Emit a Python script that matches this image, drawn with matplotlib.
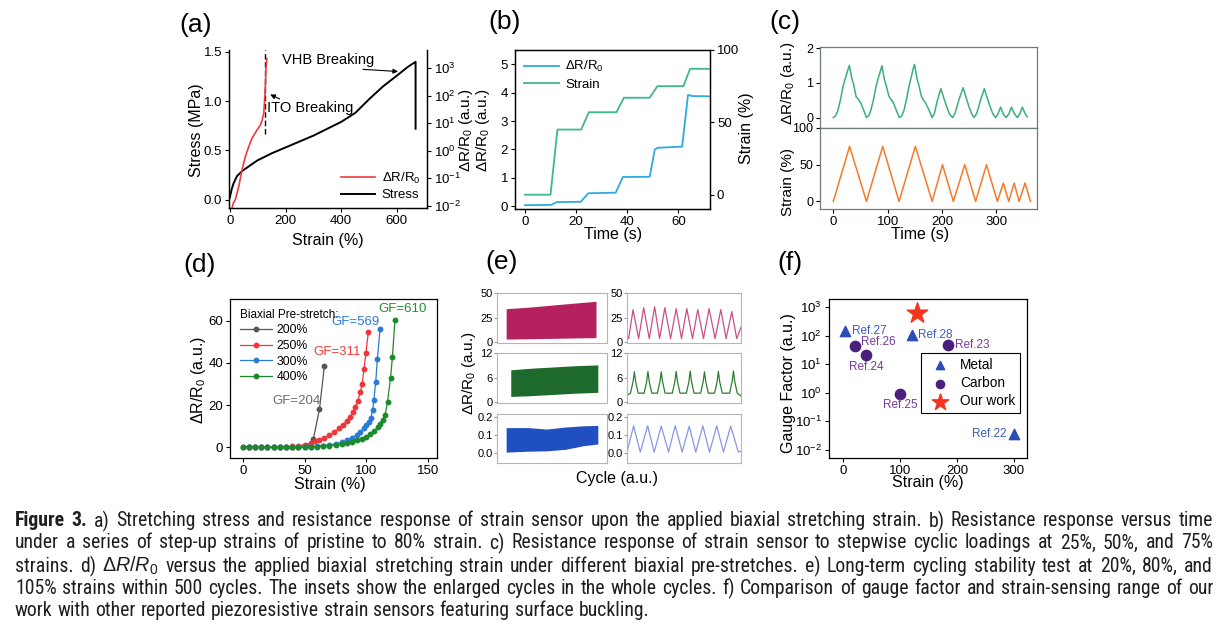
import matplotlib
matplotlib.use("Agg")
import matplotlib.pyplot as plt
import numpy as np
from matplotlib import font_manager

plt.rcParams["font.family"] = ["Liberation Sans", "DejaVu Sans"]
plt.rcParams["mathtext.fontset"] = "custom"
plt.rcParams["mathtext.rm"] = "Liberation Sans"
plt.rcParams["mathtext.it"] = "Liberation Sans:italic"
plt.rcParams["mathtext.bf"] = "Liberation Sans:bold"
plt.rcParams["axes.linewidth"] = 0.9
plt.rcParams["xtick.labelsize"] = 9.5
plt.rcParams["ytick.labelsize"] = 9.5
plt.rcParams["xtick.major.size"] = 3
plt.rcParams["ytick.major.size"] = 3
plt.rcParams["xtick.major.pad"] = 2
plt.rcParams["ytick.major.pad"] = 2

W, H = 1230, 628
DR = r"ΔR/R$_0$"

# ---------------- data ----------------
# (a) stress-strain and resistance up to breaking
a_strain = [0, 6, 14, 26, 44, 74, 100, 150, 200, 250, 300, 350, 400, 450, 500, 550, 600, 640, 667, 667]
a_stress = [0.02, 0.10, 0.17, 0.24, 0.29, 0.35, 0.40, 0.47, 0.53, 0.59, 0.65, 0.72, 0.79, 0.88, 1.02, 1.15, 1.26, 1.35, 1.40, 0.72]
a_strain_r = [8, 13, 20, 32, 44, 56, 68, 80, 98, 110, 116, 122, 125, 128, 130, 133]
a_dr = [0.0083, 0.0126, 0.0166, 0.05, 0.2, 0.62, 1.41, 2.9, 5.75, 8.7, 13.2, 23.4, 71, 288, 1150, 2290]
a_ito_strain = 128
a_ito_span = [0.67, 1.52]

# (b) step-up strains
b_time_dr = [0, 10.2, 12.5, 21.8, 24.8, 35.5, 38.3, 48.8, 50.8, 52, 61.5, 63.8, 65.5, 72.5]
b_dr = [0.04, 0.05, 0.15, 0.16, 0.46, 0.48, 1.03, 1.04, 2.0, 2.06, 2.1, 3.92, 3.88, 3.87]
b_time_strain = [0, 10, 12.7, 22, 25, 35.8, 38.7, 48.8, 51.8, 62, 64.6, 72.5]
b_strain = [0, 0, 45, 45, 57, 57, 67, 67, 75, 75, 87, 87]

# (c) stepwise cyclic loading
c_time_strain = [0, 30, 61, 91, 121, 151, 182, 201, 221, 242, 262, 282, 302, 313, 323, 333, 342, 353, 363]
c_strain = [0, 75, 0, 75, 0, 75, 0, 50, 0, 50, 0, 50, 0, 25, 0, 25, 0, 25, 0]
c_time_dr = [0, 4, 8, 13, 18, 22, 26, 29.5, 31, 34, 37, 42, 46, 50, 55, 61,
             65, 69, 74, 79, 83, 87, 89.5, 91, 94, 97, 102, 106, 110, 115, 121.5,
             126, 130, 135, 140, 144, 147, 149.5, 151, 154, 157, 162, 166, 170, 176, 182,
             186, 192, 198, 203, 209, 214, 219.6,
             224, 231, 239, 244, 250, 255, 259,
             264, 271, 278, 283, 289, 294, 299,
             303, 308, 313, 318, 323, 328, 333, 338.6, 343, 348, 353, 357]
c_dr = [0, 0.05, 0.18, 0.5, 0.9, 1.12, 1.33, 1.5, 1.38, 1.12, 0.98, 0.6, 0.53, 0.44, 0.25, 0,
        0.05, 0.2, 0.52, 0.92, 1.15, 1.35, 1.49, 1.36, 1.1, 0.95, 0.63, 0.52, 0.45, 0.25, 0,
        0.05, 0.2, 0.55, 0.95, 1.2, 1.4, 1.53, 1.4, 1.12, 0.96, 0.62, 0.5, 0.42, 0.22, 0,
        0.12, 0.52, 0.83, 0.58, 0.3, 0.1, 0,
        0.12, 0.5, 0.86, 0.6, 0.3, 0.1, 0,
        0.12, 0.5, 0.83, 0.58, 0.3, 0.1, 0,
        0.1, 0.3, 0.1, 0, 0.1, 0.3, 0.12, 0, 0.1, 0.3, 0.12, 0.02]

# (d) different biaxial pre-stretches
d_x_200 = [0, 5, 10, 15, 20, 25, 30, 35, 40, 45, 50, 54, 57, 62, 66]
d_y_200 = [0, 0, 0, 0, 0, 0, 0.1, 0.1, 0.2, 0.3, 0.6, 1.2, 3.8, 18, 38.5]
d_x_250 = [5, 10, 15, 20, 25, 30, 35, 40, 45, 50, 55, 58, 62, 66, 70, 74, 78, 81, 84, 87, 89, 91, 93, 95, 96.5, 98, 99.5, 101.5]
d_y_250 = [0, 0, 0, 0, 0, 0.1, 0.2, 0.4, 0.7, 1.2, 2.0, 3.0, 3.5, 4.3, 5.6, 7.2, 9.0, 10.5, 12.5, 14.5, 16.5, 19, 22, 26, 30, 37, 44.5, 54.5]
d_x_300 = [5, 10, 15, 20, 25, 30, 35, 40, 45, 50, 55, 60, 65, 70, 75, 80,
           84, 88, 92, 95, 98, 100, 102, 103.5, 105, 106, 107.5, 108.8, 111]
d_y_300 = [0, 0, 0, 0, 0, 0, 0, 0.1, 0.1, 0.2, 0.3, 0.5, 0.8, 1.1, 1.6, 2.3,
           3.2, 4.3, 5.8, 7.3, 9.0, 10.5, 12.0, 14.0, 17.5, 22.5, 31, 42, 56]
d_x_400 = [0, 5, 10, 15, 20, 25, 30, 35, 40, 45, 50, 55, 60, 65, 70, 75, 80,
           84, 88, 92, 96, 100, 103, 106, 109, 111, 113, 115, 117, 119.5, 121, 123]
d_y_400 = [0, 0, 0, 0, 0, 0, 0, 0, 0, 0.1, 0.1, 0.2, 0.3, 0.5, 0.7, 1.0, 1.4,
           1.9, 2.5, 3.2, 4.0, 5.0, 6.2, 7.6, 9.4, 11.0, 13.0, 15.2, 21.5, 33, 43, 60.5]
d_labels = ["200%", "250%", "300%", "400%"]
d_gf = ["GF=204", "GF=311", "GF=569", "GF=610"]

# (e) long-term cycling: envelopes of whole test (left) and zoomed cycles (right)
e_band_x = [[0, 120, 240, 360, 490], [25, 140, 260, 380, 500], [0, 120, 220, 320, 420, 500]]
e_band_hi = [[34, 35.5, 37.5, 39.5, 41.5], [7.9, 8.3, 8.6, 8.9, 9.1], [0.14, 0.14, 0.132, 0.143, 0.15, 0.152]]
e_band_lo = [[3, 3.3, 3.7, 4.1, 4.5], [1.4, 1.6, 1.9, 2.2, 2.4], [0.005, 0.01, 0.012, 0.02, 0.04, 0.05]]
e_r1_x = [0, 0.15, 0.55, 1.06, 1.52, 2.03, 2.52, 2.97, 3.45, 3.97, 4.48, 4.97, 5.45, 5.97, 6.45, 6.97, 7.48, 8.03, 8.55, 9.03, 9.55, 10.0, 10.39]
e_r1_y = [6, 3.5, 33, 3.5, 35, 3.5, 36, 3.5, 35, 3.5, 34, 3.5, 34, 3.5, 33, 3.5, 34, 3.5, 33, 3.5, 31, 3.5, 15]
e_r2_x = [0, 0.32, 0.55, 0.67, 0.79, 1.02, 1.56, 1.79, 1.91, 2.03, 2.26, 2.77, 3.0, 3.12, 3.24, 3.47,
          4.13, 4.36, 4.48, 4.6, 4.83, 5.41, 5.64, 5.76, 5.88, 6.11, 6.71, 6.94, 7.06, 7.18, 7.41,
          7.98, 8.21, 8.33, 8.45, 8.68, 9.35, 9.58, 9.7, 9.82, 10.05, 10.39]
e_r2_y = [1.7, 2.2, 5, 7.4, 5, 2.2, 2.2, 5, 7.5, 5, 2.2, 2.2, 5, 7.4, 5, 2.2,
          2.2, 5, 7.5, 5, 2.2, 2.2, 5, 7.6, 5, 2.2, 2.2, 5, 7.4, 5, 2.2,
          2.2, 5, 7.5, 5, 2.2, 2.2, 5, 7.6, 5, 2.2, 1.5]
e_r3_x = [0, 0.6, 1.21, 1.88, 2.48, 3.12, 3.79, 4.39, 5.03, 5.67, 6.27, 6.91, 7.52, 8.18, 8.79, 9.45, 10.15, 10.39]
e_r3_y = [0.005, 0.15, 0.005, 0.15, 0.005, 0.148, 0.005, 0.15, 0.005, 0.148, 0.005, 0.15, 0.005, 0.15, 0.005, 0.148, 0.005, 0.01]

# (f) comparison with literature
f_metal_x = [3, 120, 300]
f_metal_y = [150, 108, 0.035]
f_metal_ref = ["Ref.27", "Ref.28", "Ref.22"]
f_carbon_x = [20, 40, 100, 185]
f_carbon_y = [45, 21.5, 0.9, 48]
f_carbon_ref = ["Ref.26", "Ref.24", "Ref.25", "Ref.23"]
f_our_x = [130]
f_our_y = [650]

caption = [
    "Figure 3.  a) Stretching stress and resistance response of strain sensor upon the applied biaxial stretching strain. b) Resistance response versus time",
    "under a series of step-up strains of pristine to 80% strain. c) Resistance response of strain sensor to stepwise cyclic loadings at 25%, 50%, and 75%",
    r"strains. d) $\Delta{}R/R_0$ versus the applied biaxial stretching strain under different biaxial pre-stretches. e) Long-term cycling stability test at 20%, 80%, and",
    "105% strains within 500 cycles. The insets show the enlarged cycles in the whole cycles. f) Comparison of gauge factor and strain-sensing range of our",
    "work with other reported piezoresistive strain sensors featuring surface buckling.",
]


def rect(l, t, r, b):
    return [l / W, 1 - b / H, (r - l) / W, (b - t) / H]


def ftext(px, py, s, **kw):
    return fig.text(px / W, 1 - py / H, s, ha=kw.pop("ha", "center"), va=kw.pop("va", "center"), **kw)


fig = plt.figure(figsize=(W / 100, H / 100), dpi=100)

# ---------------- (a) ----------------
ax = fig.add_axes(rect(229, 50, 427, 208))
ax.plot(a_strain, a_stress, color="black", lw=1.4)
ax.vlines(a_ito_strain, *a_ito_span, colors="black", linestyles=(0, (4, 2)), lw=1.0)
ax.set_xlim(-3, 708)
ax.set_ylim(-0.085, 1.52)
ax.set_xticks([0, 200, 400, 600])
ax.set_yticks([0, 0.5, 1.0, 1.5])
ax.spines["top"].set_visible(False)
ax.text(188, 1.415, "VHB Breaking", fontsize=10.5, va="center")
ax.annotate("", xy=(614, 1.30), xytext=(468, 1.325),
            arrowprops=dict(arrowstyle="-|>", color="black", lw=0.8, mutation_scale=7))
ax.text(134, 0.93, "ITO Breaking", fontsize=10.5, va="center")
ax.annotate("", xy=(136, 1.08), xytext=(188, 1.01),
            arrowprops=dict(arrowstyle="-|>", color="black", lw=0.8, mutation_scale=7))
ax2 = ax.twinx()
ax2.semilogy(a_strain_r, a_dr, color="#EE3B3B", lw=1.2)
ax2.set_ylim(10 ** -2.09, 10 ** 3.67)
ax2.set_yticks([1e-2, 1e-1, 1, 10, 100, 1000])
ax2.spines["top"].set_visible(False)
ax2.legend(handles=[plt.Line2D([], [], color="#EE3B3B", lw=1.2, label=DR),
                    plt.Line2D([], [], color="black", lw=1.4, label="Stress")],
           loc="lower right", frameon=False, fontsize=9.5, handlelength=2.6,
           borderaxespad=0.1, labelspacing=0.25, handletextpad=0.5)
ftext(196, 25, "(a)", fontsize=19)
ftext(197, 130, "Stress (MPa)", fontsize=11.5, rotation=90)
ftext(466, 130, DR + " (a.u.)", fontsize=11, rotation=90)
ftext(328, 241, "Strain (%)", fontsize=11.5)

# ---------------- (b) ----------------
ax = fig.add_axes(rect(515, 50, 710, 209))
l1, = ax.plot(b_time_dr, b_dr, color="#2EAADF", lw=1.3, label=DR)
ax.set_xlim(-3.9, 72.4)
ax.set_ylim(-0.094, 5.5)
ax.set_xticks([0, 20, 40, 60])
ax.set_yticks([0, 1, 2, 3, 4, 5])
ax2 = ax.twinx()
l2, = ax2.plot(b_time_strain, b_strain, color="#3DB98A", lw=1.3, label="Strain")
ax2.set_ylim(-9.9, 100)
ax2.set_yticks([0, 50, 100])
ax2.legend(handles=[l1, l2], loc="upper left", frameon=False, fontsize=9.5,
           handlelength=2.6, borderaxespad=0.3, labelspacing=0.3, handletextpad=0.5)
ftext(505, 22, "(b)", fontsize=19)
ftext(483, 130, DR + " (a.u.)", fontsize=11, rotation=90)
ftext(747, 128, "Strain (%)", fontsize=11.5, rotation=90)
ftext(613, 235, "Time (s)", fontsize=11.5)

# ---------------- (c) ----------------
grey = "#6d7b7b"
axt = fig.add_axes(rect(820, 47, 1037, 128))
axb = fig.add_axes(rect(820, 128, 1037, 209))
axt.plot(c_time_dr, c_dr, color="#3BB077", lw=1.1)
axb.plot(c_time_strain, c_strain, color="#F57A2A", lw=1.1)
for a in (axt, axb):
    a.set_xlim(-24.5, 375)
    a.tick_params(axis="y", labelsize=9)
    for s in a.spines.values():
        s.set_color(grey)
axt.set_ylim(-0.3, 2.03)
axt.set_yticks([0, 1, 2])
axt.tick_params(bottom=False, labelbottom=False)
axb.set_ylim(-10.3, 100)
axb.set_yticks([0, 50, 100])
axb.set_xticks([0, 100, 200, 300])
ftext(785, 22, "(c)", fontsize=19)
ftext(788, 83, DR + " (a.u.)", fontsize=11, rotation=90)
ftext(788, 182, "Strain (%)", fontsize=11, rotation=90)
ftext(920, 235, "Time (s)", fontsize=11.5)

# ---------------- (d) ----------------
ax = fig.add_axes(rect(230, 299, 437, 458))
d_colors = ["#555555", "#F0343C", "#2A7BD6", "#1B8A2B"]
d_x = [d_x_200, d_x_250, d_x_300, d_x_400]
d_y = [d_y_200, d_y_250, d_y_300, d_y_400]
for xs, ys, c, lab in zip(d_x, d_y, d_colors, d_labels):
    ax.plot(xs, ys, color=c, lw=0.9, marker="o", ms=3.2, label=lab)
ax.text(43.7, 22, d_gf[0], color="#6b6b6b", fontsize=9.5, ha="center", va="center")
ax.text(76, 45, d_gf[1], color="#EE3B3B", fontsize=9.5, ha="center", va="center")
ax.text(91, 59.5, d_gf[2], color="#2A7BD6", fontsize=9.5, ha="center", va="center")
ax.text(129, 65.5, d_gf[3], color="#1F8F2F", fontsize=9.5, ha="center", va="center")
ax.set_xlim(-10.3, 157)
ax.set_ylim(-5.1, 70.3)
ax.set_xticks([0, 50, 100, 150])
ax.set_yticks([0, 20, 40, 60])
leg = ax.legend(loc="upper left", frameon=False, fontsize=8.8, title="Biaxial Pre-stretch:",
                title_fontsize=8.5, alignment="left", handlelength=2.6,
                borderaxespad=0.4, labelspacing=0.3, handletextpad=0.4)
ftext(200, 265, "(d)", fontsize=19)
ftext(199, 380, DR + " (a.u.)", fontsize=11.5, rotation=90)
ftext(330, 485, "Strain (%)", fontsize=11.5)

# ---------------- (e) ----------------
rows = [(293, 343), (353, 403), (414, 463)]
band_c = ["#B5215E", "#1E6A2C", "#1F4FC0"]
line_c = ["#C94F86", "#2E7D32", "#8597E6"]
e_ylim = [(-1, 50), (-0.2, 12), (-0.055, 0.215)]
e_ticks = [[0, 25, 50], [0, 6, 12], [0.0, 0.1, 0.2]]
e_tlab = [["0", "25", "50"], ["0", "6", "12"], ["0.0", "0.1", "0.2"]]
e_rx = [e_r1_x, e_r2_x, e_r3_x]
e_ry = [e_r1_y, e_r2_y, e_r3_y]
for i, (t, b) in enumerate(rows):
    axl = fig.add_axes(rect(497, t, 607, b))
    axr = fig.add_axes(rect(627, t, 741, b))
    axl.fill_between(e_band_x[i], e_band_lo[i], e_band_hi[i], color=band_c[i], lw=0)
    axl.set_xlim(-50, 550)
    axr.plot(e_rx[i], e_ry[i], color=line_c[i], lw=0.9)
    axr.set_xlim(0, 10.39)
    for a in (axl, axr):
        a.set_ylim(*e_ylim[i])
        a.set_yticks(e_ticks[i])
        a.set_yticklabels(e_tlab[i])
        a.set_xticks([])
        a.tick_params(axis="y", labelsize=8, length=2, pad=1, color="#999999")
        for s in a.spines.values():
            s.set_color("#b5b5b5")
            s.set_linewidth(0.8)
ftext(502, 262, "(e)", fontsize=19)
ftext(469, 373, DR + " (a.u.)", fontsize=11, rotation=90)
ftext(617, 478, "Cycle (a.u.)", fontsize=11.5)

# ---------------- (f) ----------------
ax = fig.add_axes(rect(829, 299, 1027, 458))
ax.set_yscale("log")
ax.scatter(f_metal_x, f_metal_y, marker="^", s=55, color="#2A4DB5", label="Metal", zorder=3)
ax.scatter(f_carbon_x, f_carbon_y, marker="o", s=55, color="#4B1F7D", label="Carbon", zorder=3)
ax.scatter(f_our_x, f_our_y, marker="*", s=240, color="#F5331F", label="Our work", zorder=3)
metal_txt = "#3A5DC0"
carbon_txt = "#7A3A9A"
ax.text(f_metal_x[0] + 13, f_metal_y[0], f_metal_ref[0], color=metal_txt, fontsize=8.5, va="center")
ax.text(f_metal_x[1] + 12, f_metal_y[1], f_metal_ref[1], color=metal_txt, fontsize=8.5, va="center")
ax.text(f_metal_x[2] - 13, f_metal_y[2], f_metal_ref[2], color=metal_txt, fontsize=8.5, va="center", ha="right")
ax.text(f_carbon_x[0] + 11, f_carbon_y[0] * 1.35, f_carbon_ref[0], color=carbon_txt, fontsize=8.5, va="center")
ax.text(f_carbon_x[1], f_carbon_y[1] / 2.6, f_carbon_ref[1], color=carbon_txt, fontsize=8.5, va="center", ha="center")
ax.text(f_carbon_x[2], f_carbon_y[2] / 2.5, f_carbon_ref[2], color=carbon_txt, fontsize=8.5, va="center", ha="center")
ax.text(f_carbon_x[3] + 12, f_carbon_y[3], f_carbon_ref[3], color=carbon_txt, fontsize=8.5, va="center")
ax.set_xlim(-25, 323)
ax.set_ylim(10 ** -2.29, 10 ** 3.29)
ax.set_xticks([0, 100, 200, 300])
ax.set_yticks([1e-2, 1e-1, 1, 10, 100, 1000])
ax.yaxis.set_minor_locator(plt.NullLocator())
leg = ax.legend(loc="lower right", bbox_to_anchor=(0.965, 0.283), borderaxespad=0,
                fontsize=9.8, fancybox=False, edgecolor="black", framealpha=1,
                handletextpad=0.5, labelspacing=0.3, borderpad=0.35, scatterpoints=1,
                markerscale=0.8)
leg.get_frame().set_linewidth(0.8)
ftext(790, 263, "(f)", fontsize=19)
ftext(788, 383, "Gauge Factor (a.u.)", fontsize=11.5, rotation=90)
ftext(928, 483, "Strain (%)", fontsize=11.5)

# ---------------- caption ----------------
cap_family, cap_stretch = None, "normal"
for fam in ["Liberation Sans Narrow", "Roboto Condensed", "Open Sans Condensed"]:
    try:
        font_manager.findfont(font_manager.FontProperties(family=fam), fallback_to_default=False)
        cap_family = fam
        break
    except ValueError:
        pass
if cap_family is None:
    path = font_manager.findfont(font_manager.FontProperties(family="DejaVu Sans", stretch="condensed"))
    if "Condensed" in path:
        cap_family, cap_stretch = "DejaVu Sans", "condensed"
    else:
        cap_family = "Liberation Sans"

renderer = fig.canvas.get_renderer()
x0, x1 = 15, 1213
cap_y = [521, 543, 566, 588, 610]


def place_words(line, py, size, justify):
    words = line.split()
    texts = []
    for k, w in enumerate(words):
        bold = line.startswith("Figure") and k < 2
        texts.append(ftext(0, py, w, ha="left", fontsize=size, family=cap_family,
                           stretch=cap_stretch, weight="bold" if bold else "normal",
                           color="#1e1e1e"))
    widths = [t.get_window_extent(renderer).width for t in texts]
    gap = 0.25 * size * 100 / 72
    if justify:
        gap = (x1 - x0 - sum(widths)) / (len(words) - 1)
    x = x0
    for t, wd in zip(texts, widths):
        t.set_x(x / W)
        x += wd + gap
    return sum(widths) + gap * (len(words) - 1), texts


# size the caption so that its longest line fits the text block with normal spaces
size = 13.5
natural = 0
for line in caption[:4]:
    n, tmp = place_words(line, cap_y[0], size, False)
    natural = max(natural, n)
    for t in tmp:
        t.remove()
size = min(15.5, size * (x1 - x0) / natural * 0.99)
for i, line in enumerate(caption):
    place_words(line, cap_y[i], size, i < len(caption) - 1)

fig.savefig("out.png", dpi=100)
